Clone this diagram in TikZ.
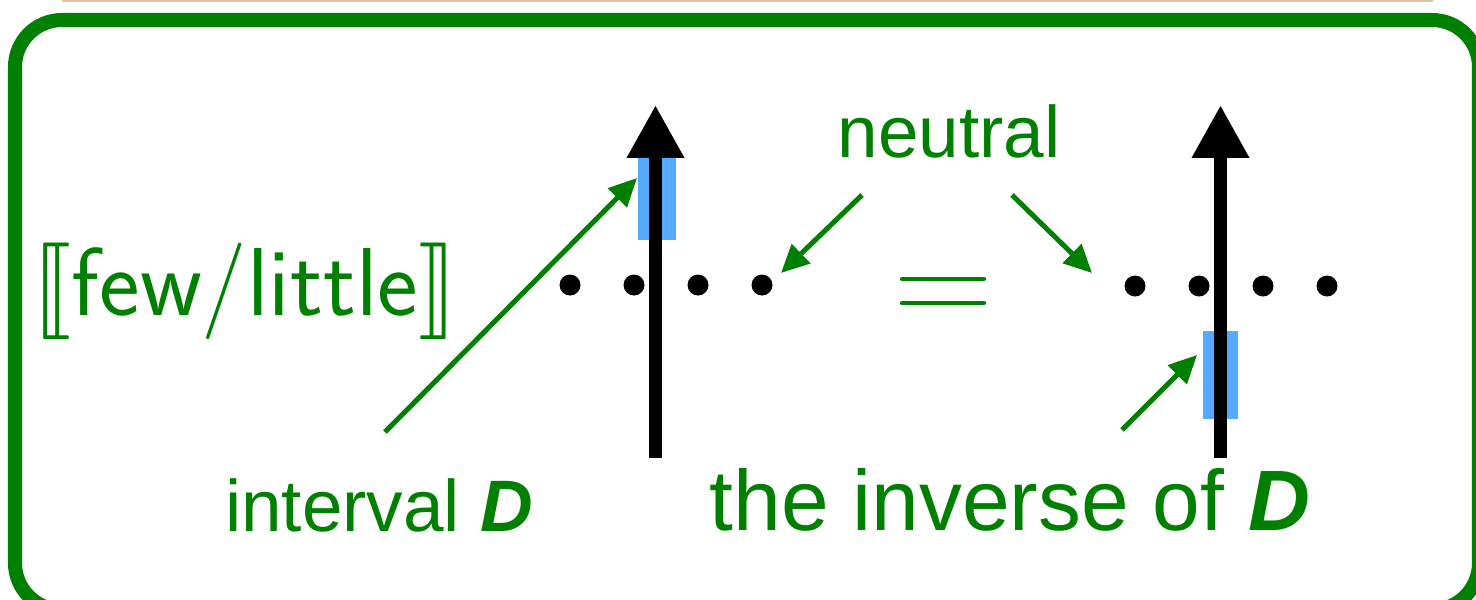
\documentclass[tikz,border=0pt]{standalone}
\usepackage{fontspec}
\setmainfont{Liberation Sans}
\usepackage{stmaryrd}
\usepackage{graphicx}
\usetikzlibrary{positioning, arrows.meta}

\definecolor{dgreen}{HTML}{008000}
\definecolor{lblue}{HTML}{55AAFF}
\definecolor{tanline}{HTML}{DCC3AA}

\begin{document}
\begin{tikzpicture}[
    x=0.02cm, y=-0.02cm,
    axis/.style={line width=7.4pt, -{Triangle[length=1.06cm, width=1.08cm]}},
    pointer/.style={line width=2.85pt, dgreen, -{Triangle[length=0.56cm, width=0.52cm]}},
    interval/.style={fill=lblue, inner sep=0pt},
    dot/.style={circle, fill=black, inner sep=0pt, minimum size=0.42cm},
    label/.style={text=dgreen, inner sep=0pt, anchor=base, font=\fontsize{41.5}{48}\selectfont}
]
\useasboundingbox (0,0) rectangle (1476,599);
\clip (0,0) rectangle (1476,599);

% Frame
\draw[tanline, line width=1.2pt] (62,1) -- (1433,1);
\draw[dgreen, line width=8pt, rounded corners=0.94cm] (15,20) rectangle (1479,610);

% Intervals
\node[interval, minimum width=0.76cm, minimum height=1.64cm] (intD) at (657,199) {};
\node[interval, minimum width=0.70cm, minimum height=1.76cm] (invD) at (1220.5,375) {};

% Scales
\coordinate (s1) at (655.5,458);
\coordinate (t1) at (655.5,105);
\coordinate (s2) at (1220.5,458);
\coordinate (t2) at (1220.5,105);
\draw[axis] (s1) -- (t1);
\draw[axis] (s2) -- (t2);

% Dots
\foreach \i/\x in {1/570, 2/634, 3/698, 4/762} {
    \node[dot] (l\i) at (\x,285) {};
}
\foreach \i/\x in {1/1135, 2/1199, 3/1263, 4/1327} {
    \node[dot] (r\i) at (\x,286) {};
}

% Equals
\draw[dgreen, line width=2.4pt, line cap=round] (902,279) -- (984,279) (902,303) -- (984,303);

% Labels
\node[label, font=\sffamily\fontsize{55}{62}\selectfont] (word) at (245,315)
    {\scalebox{5.5}{\fontsize{10}{12}\selectfont$\llbracket$}few/little\scalebox{5.5}{\fontsize{10}{12}\selectfont$\rrbracket$}};
\node[label] (neutral) at (949,157) {neutral};
\node[label] (intlabel) at (379,531) {interval \textbf{\textit{D}}};
\node[label, font=\fontsize{48.8}{56}\selectfont] (invlabel) at (1010,530) {the inverse of \textbf{\textit{D}}};

% Pointers
\coordinate (p1) at (385,432);
\coordinate (q1) at (637,178);
\coordinate (p2) at (862,195);
\coordinate (q2) at (781,273);
\coordinate (p3) at (1012,195);
\coordinate (q3) at (1092,273);
\coordinate (p4) at (1122,430);
\coordinate (q4) at (1197,355);
\draw[pointer] (p1) -- (q1);
\draw[pointer] (p2) -- (q2);
\draw[pointer] (p3) -- (q3);
\draw[pointer] (p4) -- (q4);

\end{tikzpicture}
\end{document}
